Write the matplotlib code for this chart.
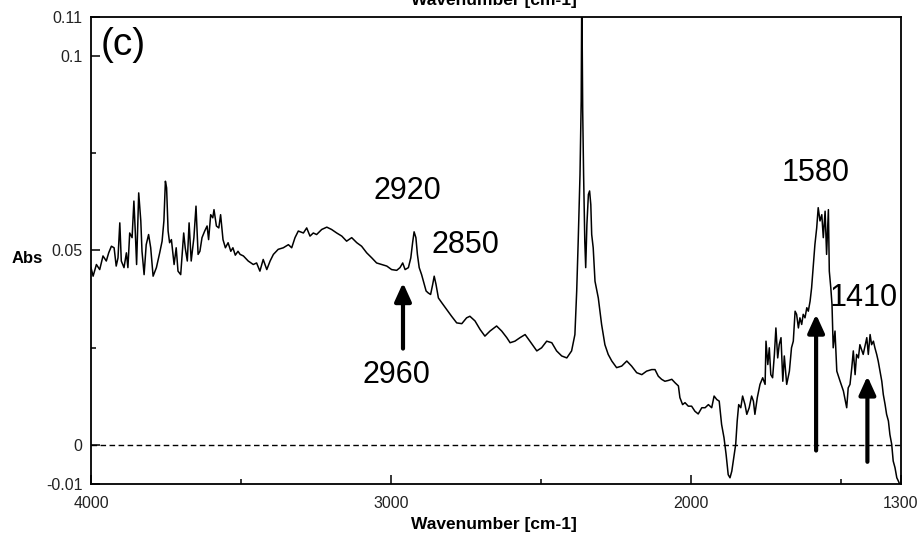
import matplotlib
matplotlib.use("Agg")
from matplotlib import pyplot as plt

plt.rcParams['font.family'] = ['Liberation Sans', 'DejaVu Sans']

# FTIR absorbance spectrum, wavenumber in cm-1
wavenumber = [
    4000, 3993, 3982, 3971, 3960, 3949, 3941, 3932, 3923, 3916, 3910, 3904, 3899, 3890,
    3882, 3877, 3871, 3863, 3857, 3852, 3848, 3841, 3834, 3830, 3823, 3816, 3808, 3801,
    3793, 3782, 3771, 3763, 3757, 3752, 3748, 3743, 3738, 3732, 3723, 3716, 3710, 3701,
    3696, 3691, 3686, 3679, 3673, 3666, 3657, 3650, 3643, 3637, 3630, 3621, 3613, 3608,
    3601, 3594, 3590, 3582, 3574, 3568, 3560, 3552, 3543, 3534, 3527, 3519, 3510,
    3503, 3492, 3476, 3459, 3448, 3437, 3426, 3414, 3403, 3392, 3376, 3359, 3342, 3331,
    3320, 3309, 3292, 3281, 3270, 3259, 3248, 3231, 3214, 3198, 3181, 3164, 3148, 3131,
    3114, 3098, 3081, 3064, 3048, 3031, 3014, 2998, 2981,
    2970, 2961, 2953, 2942, 2934, 2928, 2923, 2917, 2912, 2906, 2898, 2892, 2883, 2876,
    2868, 2861, 2856, 2850, 2842, 2831, 2814, 2798, 2781, 2764, 2748, 2737, 2720, 2703,
    2687, 2670, 2648, 2631, 2614, 2603, 2587, 2570, 2553, 2537, 2514, 2498, 2481,
    2464, 2448, 2431, 2414, 2398, 2387, 2381, 2376, 2370, 2366, 2364, 2361, 2358, 2354,
    2351, 2347, 2342, 2338, 2334, 2331, 2326, 2320, 2309, 2298, 2287, 2276, 2264, 2248,
    2231, 2214, 2198, 2181, 2164, 2148, 2131,
    2120, 2109, 2098, 2087, 2076, 2064, 2053, 2042, 2037, 2028, 2020, 2009, 1998, 1987,
    1976, 1964, 1953, 1942, 1931, 1923, 1914, 1906, 1898, 1890, 1883, 1876, 1870, 1864,
    1859, 1851, 1846, 1841, 1834, 1828, 1820, 1814, 1806, 1798, 1792, 1787, 1779, 1770,
    1761, 1753, 1750, 1744, 1739, 1734, 1728, 1722, 1717, 1711, 1706, 1700, 1694, 1689,
    1681, 1672,
    1665, 1659, 1653, 1648, 1642, 1637, 1631, 1626, 1620, 1614, 1609, 1603, 1598, 1592,
    1587, 1581, 1576, 1570, 1564, 1559, 1553, 1548, 1542, 1539, 1534, 1530, 1526, 1520,
    1514, 1503, 1492, 1481, 1476, 1470, 1464, 1459, 1453, 1448, 1442, 1437, 1426, 1414,
    1409, 1403, 1398, 1392, 1387, 1381, 1376, 1370, 1364, 1359, 1353, 1348, 1342, 1337,
    1331, 1326, 1320, 1314, 1309, 1302,
]
absorbance = [
    0.0456, 0.0434, 0.0464, 0.0451, 0.0486, 0.0473, 0.0494, 0.0511, 0.0507, 0.0460, 0.0481, 0.0571, 0.0473, 0.0456,
    0.0494, 0.0456, 0.0545, 0.0533, 0.0627, 0.0541, 0.0464, 0.0648, 0.0576, 0.0498, 0.0438, 0.0515, 0.0541, 0.0507,
    0.0434, 0.0456, 0.0494, 0.0524, 0.0576, 0.0678, 0.0661, 0.0550, 0.0520, 0.0528, 0.0464, 0.0507, 0.0447, 0.0438,
    0.0490, 0.0545, 0.0507, 0.0473, 0.0571, 0.0473, 0.0533, 0.0614, 0.0490, 0.0498, 0.0533, 0.0550, 0.0563, 0.0528,
    0.0592, 0.0584, 0.0605, 0.0563, 0.0558, 0.0592, 0.0528, 0.0507, 0.0520, 0.0498, 0.0507, 0.0488, 0.0498,
    0.0490, 0.0486, 0.0473, 0.0464, 0.0468, 0.0447, 0.0477, 0.0451, 0.0473, 0.0490, 0.0503, 0.0507, 0.0515, 0.0507,
    0.0533, 0.0550, 0.0545, 0.0558, 0.0537, 0.0545, 0.0541, 0.0554, 0.0560, 0.0554, 0.0545, 0.0537, 0.0524, 0.0533,
    0.0520, 0.0511, 0.0494, 0.0481, 0.0468, 0.0464, 0.0460, 0.0451, 0.0449,
    0.0456, 0.0468, 0.0451, 0.0456, 0.0481, 0.0520, 0.0548, 0.0533, 0.0490, 0.0456, 0.0438, 0.0421, 0.0396, 0.0391,
    0.0387, 0.0413, 0.0434, 0.0413, 0.0378, 0.0366, 0.0348, 0.0331, 0.0314, 0.0312, 0.0327, 0.0331, 0.0319, 0.0297,
    0.0280, 0.0293, 0.0306, 0.0293, 0.0276, 0.0263, 0.0267, 0.0276, 0.0284, 0.0267, 0.0242, 0.0250, 0.0267,
    0.0263, 0.0242, 0.0229, 0.0224, 0.0242, 0.0284, 0.0396, 0.0524, 0.0695, 0.0884, 0.1180, 0.0858, 0.0695, 0.0524,
    0.0456, 0.0567, 0.0644, 0.0653, 0.0618, 0.0541, 0.0507, 0.0421, 0.0378, 0.0310, 0.0258, 0.0233, 0.0216, 0.0199,
    0.0203, 0.0216, 0.0203, 0.0186, 0.0181, 0.0190, 0.0194,
    0.0194, 0.0177, 0.0169, 0.0164, 0.0166, 0.0169, 0.0160, 0.0152, 0.0122, 0.0104, 0.0109, 0.0100, 0.0100, 0.0087,
    0.0080, 0.0096, 0.0096, 0.0104, 0.0096, 0.0126, 0.0117, 0.0113, 0.0053, 0.0019, -0.0024, -0.0076, -0.0084, -0.0067,
    -0.0041, 0.0002, 0.0062, 0.0104, 0.0096, 0.0126, 0.0104, 0.0079, 0.0096, 0.0126, 0.0113, 0.0079, 0.0122, 0.0156,
    0.0173, 0.0156, 0.0267, 0.0207, 0.0250, 0.0181, 0.0173, 0.0233, 0.0301, 0.0224, 0.0258, 0.0276, 0.0164, 0.0229,
    0.0156, 0.0190,
    0.0250, 0.0267, 0.0344, 0.0336, 0.0301, 0.0327, 0.0310, 0.0336, 0.0327, 0.0353, 0.0344, 0.0370, 0.0404, 0.0464,
    0.0515, 0.0558, 0.0610, 0.0576, 0.0592, 0.0533, 0.0601, 0.0490, 0.0605, 0.0447, 0.0404, 0.0361, 0.0250, 0.0293,
    0.0190, 0.0164, 0.0139, 0.0096, 0.0147, 0.0156, 0.0199, 0.0242, 0.0181, 0.0233, 0.0224, 0.0258, 0.0233, 0.0276,
    0.0233, 0.0284, 0.0258, 0.0267, 0.0250, 0.0233, 0.0216, 0.0190, 0.0164, 0.0130, 0.0104, 0.0079, 0.0062, 0.0027,
    0.0002, -0.0041, -0.0058, -0.0084, -0.0092, -0.0105,
]

# band labels: text, label position, arrow (tail, tip) or None
bands = ['2920', '2850', '2960', '1580', '1410']
band_text_x = [2947, 2753, 2983, 1583, 1423]
band_text_y = [0.0653, 0.0515, 0.0181, 0.0700, 0.0379]
arrow_x = [None, None, 2960, 1583, 1412]
arrow_tail = [None, None, 0.0248, -0.0014, -0.0043]
arrow_tip = [None, None, 0.0417, 0.0336, 0.0177]

xticks = [4000, 3000, 2000, 1300]
yticks = [-0.01, 0, 0.05, 0.1, 0.11]
ytick_labels = ['-0.01', '0', '0.05', '0.1', '0.11']

fig = plt.figure(figsize=(9.21, 5.34), dpi=100)
ax = fig.add_axes([91 / 921, 50 / 534, 810 / 921, 467 / 534])

ax.plot(wavenumber, absorbance, color='black', lw=1.1)
ax.axhline(0, color='black', lw=1.0, ls=(0, (4, 2.5)))

ax.set_xlim(4000, 1300)
ax.set_ylim(-0.01, 0.11)

ax.set_xticks(xticks)
ax.set_xticklabels([str(t) for t in xticks])
ax.set_xticks([3500, 2500, 1500], minor=True)
ax.set_yticks(yticks)
ax.set_yticklabels(ytick_labels)
ax.set_yticks([0.025, 0.075], minor=True)
ax.tick_params(which='both', direction='in', width=1.1, colors='black', labelcolor='#222222', labelsize=11.5)
ax.tick_params(axis='x', which='major', length=6.5, pad=9)
ax.tick_params(axis='y', which='major', length=6.5, pad=6)
ax.tick_params(which='minor', length=3.6)
for sp in ax.spines.values():
    sp.set_linewidth(1.3)

for i in range(len(bands)):
    ax.text(band_text_x[i], band_text_y[i], bands[i], fontsize=22, ha='center', va='center')
    if arrow_x[i] is not None:
        ax.annotate('', xy=(arrow_x[i], arrow_tip[i]), xytext=(arrow_x[i], arrow_tail[i]),
                    arrowprops=dict(arrowstyle='-|>,head_length=1.1,head_width=0.5', color='black',
                                    lw=3, shrinkA=0, shrinkB=0, mutation_scale=10))

ax.text(0.012, 0.94, '(c)', transform=ax.transAxes, fontsize=28, ha='left', va='center')

fig.text(12 / 921, 1 - 258 / 534, 'Abs', fontsize=12, weight='bold', ha='left', va='center')
fig.text(494 / 921, 1 - 525 / 534, 'Wavenumber [cm-1]', fontsize=12.5, weight='bold', ha='center', va='center')
# axis title repeated above the plot, partly cut off by the top edge
fig.text(494 / 921, 1 - 5 / 534, 'Wavenumber [cm-1]', fontsize=12.5, weight='bold', ha='center', va='baseline')

fig.savefig('out.png', dpi=100)
